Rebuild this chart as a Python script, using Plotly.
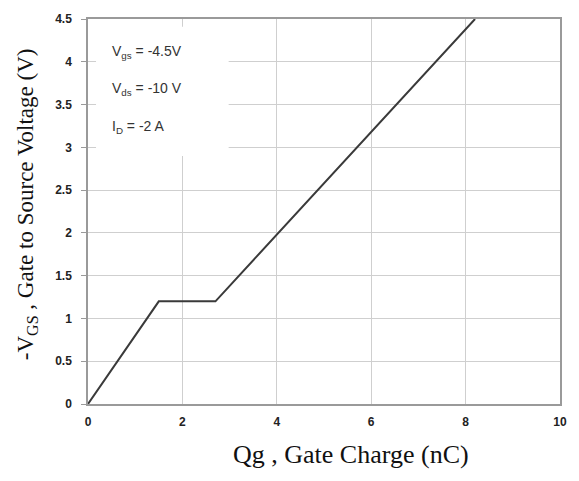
import plotly.graph_objects as go

qg = [0, 1.5, 2.7, 8.2]
vgs = [0, 1.2, 1.2, 4.5]
x_ticks = [0, 2, 4, 6, 8, 10]
y_ticks = [0, 0.5, 1, 1.5, 2, 2.5, 3, 3.5, 4, 4.5]
y_tick_labels = ["0", "0.5", "1", "1.5", "2", "2.5", "3", "3.5", "4", "4.5"]
cond_labels = ["V<sub>gs</sub> = -4.5V", "V<sub>ds</sub> = -10 V", "I<sub>D</sub> = -2 A"]
cond_y = [4.12, 3.68, 3.24]

W, H = 579, 481
l, r, t, b = 88, 14, 14, 77
pw, ph = W - l - r, H - t - b

fig = go.Figure()
fig.add_trace(go.Scatter(x=qg, y=vgs, mode="lines",
                         line=dict(color="#3a3a3a", width=2), showlegend=False))

fig.add_shape(type="rect", xref="x", yref="y", x0=0.17, x1=2.98, y0=2.9, y1=4.41,
              fillcolor="white", line=dict(width=0), layer="between")

for txt, yy in zip(cond_labels, cond_y):
    fig.add_annotation(x=0.47, y=yy, xref="x", yref="y", text=txt, showarrow=False,
                       xanchor="left", yanchor="middle",
                       font=dict(family="Liberation Sans", size=14, color="#333"))

fig.add_annotation(x=(354 - l) / pw, y=(H - 455 - b) / ph, xref="paper", yref="paper",
                   xanchor="center", yanchor="middle",
                   text="Qg , Gate Charge (nC)", showarrow=False,
                   font=dict(family="Liberation Serif", size=26, color="#111"))
fig.add_annotation(x=(26 - l) / pw, y=(H - 202 - b) / ph, xref="paper", yref="paper",
                   xanchor="center", yanchor="middle",
                   text="-V<sub>GS</sub> , Gate to Source Voltage (V)", textangle=-90,
                   showarrow=False, font=dict(family="Liberation Serif", size=23, color="#111"))

fig.update_layout(
    width=W, height=H,
    margin=dict(l=l, r=r, t=t, b=b),
    paper_bgcolor="white", plot_bgcolor="white",
    xaxis=dict(range=[0, 10], tickvals=x_ticks, showgrid=True, gridcolor="#cfcfcf", gridwidth=1,
               showline=True, linecolor="#9a9a9a", linewidth=1.5, mirror=True, zeroline=False,
               ticks="", ticklabelstandoff=6,
               tickfont=dict(family="Liberation Sans", size=12, color="#222", weight="bold")),
    yaxis=dict(range=[0, 4.5], tickvals=y_ticks, ticktext=y_tick_labels, showgrid=True,
               gridcolor="#cfcfcf", gridwidth=1,
               showline=True, linecolor="#9a9a9a", linewidth=1.5, mirror=True, zeroline=False,
               ticks="outside", ticklen=5, tickcolor="#9a9a9a", ticklabelstandoff=7,
               tickfont=dict(family="Liberation Sans", size=12, color="#222", weight="bold")),
)

fig.write_html("out.html")
